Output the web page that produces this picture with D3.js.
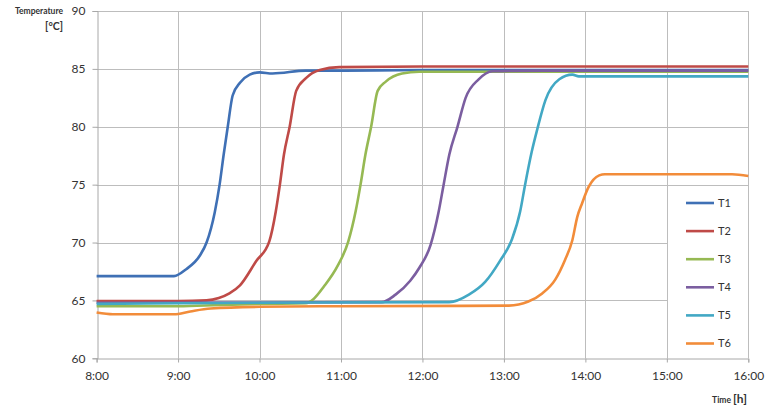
<!DOCTYPE html>
<html>
<head>
<meta charset="utf-8">
<script src="https://cdn.jsdelivr.net/npm/d3@7"></script>
<style>
  body { margin: 0; background: #fff; }
  svg text { font-family: Lato, "Open Sans", sans-serif; fill: #333; }
</style>
</head>
<body>
<div id="app"></div>
<script>
// time in decimal hours, temperature in °C
const seriesNames = ["T1", "T2", "T3", "T4", "T5", "T6"];
const seriesColors = ["#3f70b5", "#bf4a47", "#96b953", "#7b5ea0", "#42a8c4", "#f28c3a"];

const t1 = [[8, 67.1], [8.5, 67.1], [8.95, 67.1], [9.1, 67.7], [9.27, 68.9], [9.35, 70.0], [9.45, 72.6], [9.51, 75.0], [9.56, 77.6], [9.61, 80.0], [9.67, 82.7], [9.76, 83.8], [9.88, 84.5], [10, 84.7], [10.16, 84.6], [10.57, 84.85], [11, 84.85], [12, 84.9], [13, 84.9], [14, 84.9], [15, 84.9], [16, 84.9]];
const t2 = [[8, 64.95], [9, 64.95], [9.35, 65.0], [9.5, 65.2], [9.63, 65.6], [9.76, 66.3], [9.96, 68.4], [10.12, 70.1], [10.2, 72.7], [10.25, 75.0], [10.3, 77.6], [10.37, 80.0], [10.45, 83.1], [10.57, 84.2], [10.74, 84.9], [10.98, 85.15], [12, 85.2], [16, 85.2]];
const t3 = [[8, 64.5], [9, 64.5], [9.5, 64.6], [10, 64.7], [10.57, 64.75], [10.66, 65.1], [10.79, 66.2], [10.96, 68.0], [11.09, 70.1], [11.18, 72.7], [11.24, 75.0], [11.3, 77.6], [11.37, 80.0], [11.45, 83.1], [11.55, 83.9], [11.75, 84.6], [11.96, 84.75], [16, 84.75]];
const t4 = [[8, 64.8], [11.5, 64.85], [11.67, 65.5], [11.85, 66.7], [11.96, 67.8], [12.1, 69.8], [12.2, 72.7], [12.26, 75.0], [12.33, 77.6], [12.43, 80.0], [12.53, 82.5], [12.69, 84.1], [12.86, 84.8], [13.5, 84.85], [16, 84.85]];
const t5 = [[8, 64.7], [10, 64.8], [12.33, 64.85], [12.57, 65.5], [12.77, 66.6], [12.95, 68.4], [13.1, 70.3], [13.2, 72.7], [13.26, 75.0], [13.34, 77.8], [13.41, 79.8], [13.51, 82.3], [13.68, 84.1], [13.84, 84.5], [13.92, 84.35], [16, 84.35]];
const t6 = [[8, 63.95], [8.2, 63.8], [8.95, 63.8], [9.15, 64.05], [9.4, 64.3], [10, 64.45], [11, 64.5], [13.06, 64.55], [13.3, 64.9], [13.47, 65.6], [13.63, 66.8], [13.75, 68.5], [13.84, 70.2], [13.9, 72.2], [13.96, 73.4], [14.04, 74.8], [14.17, 75.8], [14.24, 75.9], [15.8, 75.9], [16, 75.75]];

const xTicks = [8, 9, 10, 11, 12, 13, 14, 15, 16];
const yTicks = [60, 65, 70, 75, 80, 85, 90];

const allSeries = [t1, t2, t3, t4, t5, t6];

const width = 765;
const height = 408;

const x = d3.scaleLinear().domain([8, 16]).range([96.6, 748.3]);
const y = d3.scaleLinear().domain([60, 90]).range([358.3, 11]);

const svg = d3
  .select("#app")
  .append("svg")
  .attr("width", width)
  .attr("height", height);

// gridlines
svg
  .append("g")
  .selectAll("line")
  .data(yTicks.slice(1))
  .enter()
  .append("line")
  .attr("x1", x(8))
  .attr("x2", x(16))
  .attr("y1", (d) => Math.round(y(d)) + 0.5)
  .attr("y2", (d) => Math.round(y(d)) + 0.5)
  .attr("stroke", "#bdbdbd");

svg
  .append("g")
  .selectAll("line")
  .data(xTicks.slice(1))
  .enter()
  .append("line")
  .attr("x1", (d) => Math.round(x(d)) + 0.5)
  .attr("x2", (d) => Math.round(x(d)) + 0.5)
  .attr("y1", y(90))
  .attr("y2", y(60))
  .attr("stroke", "#bdbdbd");

// axes
const xAxis = svg
  .append("g")
  .attr("transform", `translate(0,${Math.round(y(60)) + 0.5})`)
  .call(
    d3.axisBottom(x)
      .tickValues(xTicks)
      .tickFormat((d) => d + ":00")
      .tickSize(4)
      .tickPadding(9)
  );

const yAxis = svg
  .append("g")
  .attr("transform", `translate(${Math.round(x(8)) + 0.5},0)`)
  .call(d3.axisLeft(y).tickValues(yTicks).tickSize(5).tickPadding(7));

[xAxis, yAxis].forEach((g) => {
  g.select(".domain").attr("stroke", "#a8a8a8");
  g.selectAll(".tick line").attr("stroke", "#a8a8a8");
  g.selectAll(".tick text").style("font-size", "12px").style("fill", "#333");
});

// legend background hides the gridlines between 15:00 and 16:00
svg
  .append("rect")
  .attr("x", Math.round(x(15)) + 1)
  .attr("y", 189)
  .attr("width", Math.round(x(16)) - Math.round(x(15)) - 1)
  .attr("height", Math.round(y(60)) - 189)
  .attr("fill", "#fff");

// series
const line = d3
  .line()
  .x((d) => x(d[0]))
  .y((d) => y(d[1]))
  .curve(d3.curveMonotoneX);

svg
  .append("g")
  .selectAll("path")
  .data(allSeries)
  .enter()
  .append("path")
  .attr("d", line)
  .attr("fill", "none")
  .attr("stroke", (d, i) => seriesColors[i])
  .attr("stroke-width", 2.6)
  .attr("stroke-linejoin", "round");

// legend
const legend = svg
  .append("g")
  .selectAll("g")
  .data(seriesNames)
  .enter()
  .append("g")
  .attr("transform", (d, i) => `translate(686,${203 + i * 28.1})`);

legend
  .append("line")
  .attr("x1", 0)
  .attr("x2", 28)
  .attr("stroke", (d, i) => seriesColors[i])
  .attr("stroke-width", 2.6);

legend
  .append("text")
  .attr("x", 32)
  .attr("dy", "0.36em")
  .style("font-size", "11px")
  .text((d) => d);

// axis titles
svg
  .append("text")
  .attr("x", 63)
  .attr("y", 14)
  .attr("text-anchor", "end")
  .style("font-size", "8.5px")
  .style("font-weight", "bold")
  .text("Temperature");

svg
  .append("text")
  .attr("x", 63)
  .attr("y", 30)
  .attr("text-anchor", "end")
  .style("font-size", "10.5px")
  .style("font-weight", "bold")
  .text("[°C]");

const timeTitle = svg
  .append("text")
  .attr("x", 747)
  .attr("y", 403)
  .attr("text-anchor", "end")
  .style("font-weight", "bold");

timeTitle.append("tspan").style("font-size", "8.5px").text("Time ");
timeTitle.append("tspan").style("font-size", "12px").text("[h]");
</script>
</body>
</html>
